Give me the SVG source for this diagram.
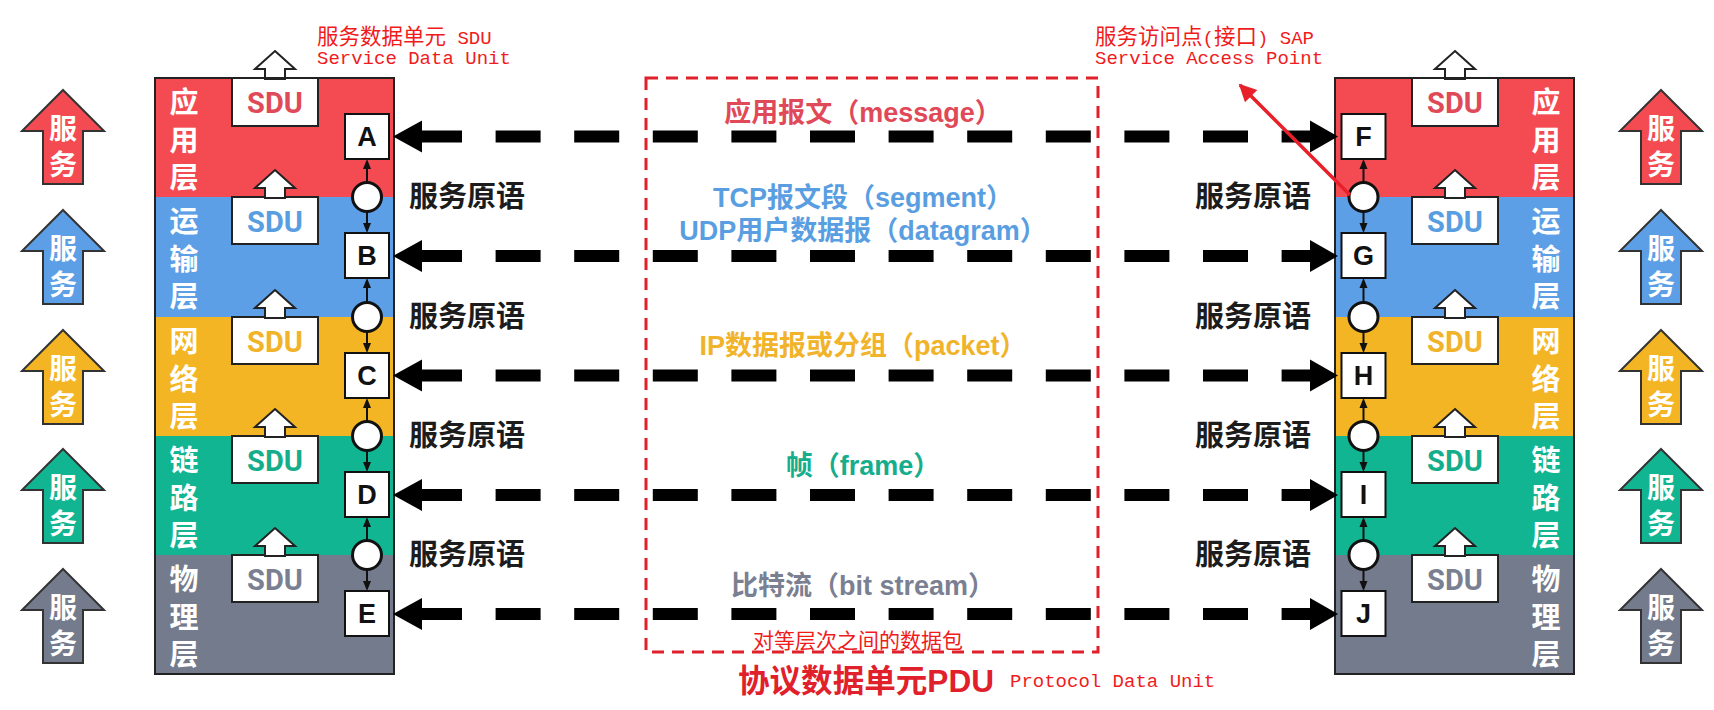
<svg xmlns="http://www.w3.org/2000/svg" width="1714" height="710" viewBox="0 0 1714 710">
<style>
.bg{fill:#fff}
.stack{fill:none;stroke:#222;stroke-width:2}
.red{fill:#f44b53}.blue{fill:#5d9fe6}.yel{fill:#f3b523}.grn{fill:#12b592}.gry{fill:#747b8c}
.tred{fill:#e04a58}.tblue{fill:#5a9ee2}.tyel{fill:#f1b32a}.tgrn{fill:#15ad8c}.tgry{fill:#7a8091}
.lt{font-family:"Noto Sans CJK SC",sans-serif;font-weight:bold;font-size:29px;fill:#fff;writing-mode:vertical-rl;letter-spacing:8.5px}
.sdubox{fill:#fff;stroke:#222;stroke-width:2}
.sdut{font-family:Roboto,"Liberation Sans",sans-serif;font-weight:bold;font-size:29px;text-anchor:middle}
.up{fill:#fff;stroke:#222;stroke-width:2;stroke-linejoin:miter}
.sap{fill:#fff;stroke:#111;stroke-width:2}
.sapt{font-family:"Liberation Sans",Arial,sans-serif;font-weight:bold;font-size:27px;fill:#111;text-anchor:middle}
.circ{fill:#fff;stroke:#111;stroke-width:3}
.prim{font-family:"Noto Sans CJK SC",sans-serif;font-weight:bold;font-size:29px;fill:#1c1c1c;text-anchor:middle}
.svc{stroke:#333;stroke-width:2}
.svct{font-family:"Noto Sans CJK SC",sans-serif;font-weight:bold;font-size:28px;fill:#fff;writing-mode:vertical-rl;letter-spacing:8px}
.pdul{stroke:#000;stroke-width:12;stroke-dasharray:45 33.6;fill:none}
.small{stroke:#111;stroke-width:2;fill:none}
.ah{fill:#111}
.big{fill:#000}
.lbl{font-family:"Liberation Sans","Noto Sans CJK SC",sans-serif;font-weight:bold;font-size:27px;text-anchor:middle}
.ann{font-family:"Liberation Mono","Noto Sans CJK SC",monospace;fill:#f01c1c;font-size:19px}
.annc{font-size:21.5px}
.pdubox{fill:none;stroke:#e0202a;stroke-width:3;stroke-dasharray:12 8}
</style>
<defs>
<marker id="red-head" viewBox="0 0 10 10" refX="9" refY="5" markerWidth="6" markerHeight="5" orient="auto" markerUnits="strokeWidth">
<path d="M0,0 L10,5 L0,10 z" fill="#e8202a"/>
</marker>
</defs>
<rect class="bg" x="0" y="0" width="1714" height="710"/>

<!-- Left service arrows -->
<g id="svc-left">
<g id="svc-left-1"><polygon class="svc red" points="63,90 104,131 83,131 83,184 43,184 43,131 22,131"/><text class="svct" x="63" y="114">服务</text></g>
<g id="svc-left-2"><polygon class="svc blue" points="63,210 104,251 83,251 83,304 43,304 43,251 22,251"/><text class="svct" x="63" y="234">服务</text></g>
<g id="svc-left-3"><polygon class="svc yel" points="63,330 104,371 83,371 83,424 43,424 43,371 22,371"/><text class="svct" x="63" y="354">服务</text></g>
<g id="svc-left-4"><polygon class="svc grn" points="63,449 104,490 83,490 83,543 43,543 43,490 22,490"/><text class="svct" x="63" y="473">服务</text></g>
<g id="svc-left-5"><polygon class="svc gry" points="63,569 104,610 83,610 83,663 43,663 43,610 22,610"/><text class="svct" x="63" y="593">服务</text></g>
</g>

<!-- Right service arrows -->
<g id="svc-right">
<g id="svc-right-1"><polygon class="svc red" points="1661,90 1702,131 1681,131 1681,184 1641,184 1641,131 1620,131"/><text class="svct" x="1661" y="114">服务</text></g>
<g id="svc-right-2"><polygon class="svc blue" points="1661,210 1702,251 1681,251 1681,304 1641,304 1641,251 1620,251"/><text class="svct" x="1661" y="234">服务</text></g>
<g id="svc-right-3"><polygon class="svc yel" points="1661,330 1702,371 1681,371 1681,424 1641,424 1641,371 1620,371"/><text class="svct" x="1661" y="354">服务</text></g>
<g id="svc-right-4"><polygon class="svc grn" points="1661,449 1702,490 1681,490 1681,543 1641,543 1641,490 1620,490"/><text class="svct" x="1661" y="473">服务</text></g>
<g id="svc-right-5"><polygon class="svc gry" points="1661,569 1702,610 1681,610 1681,663 1641,663 1641,610 1620,610"/><text class="svct" x="1661" y="593">服务</text></g>
</g>

<!-- Left stack -->
<g id="left-stack">
<g id="left-app">
<rect class="red" x="155" y="78" width="239" height="119"/>
<text class="lt" x="184" y="87.5">应用层</text>
<rect class="sdubox" x="232" y="78" width="86" height="48"/>
<polygon class="up" points="275,51 295,69 285,69 285,79 265,79 265,69 255,69"/>
<text class="sdut tred" x="275" y="113">SDU</text>
</g>
<g id="left-trans">
<rect class="blue" x="155" y="197" width="239" height="120"/>
<text class="lt" x="184" y="206.5">运输层</text>
<rect class="sdubox" x="232" y="197" width="86" height="47"/>
<polygon class="up" points="275,170 295,188 285,188 285,198 265,198 265,188 255,188"/>
<text class="sdut tblue" x="275" y="232">SDU</text>
</g>
<g id="left-net">
<rect class="yel" x="155" y="317" width="239" height="119"/>
<text class="lt" x="184" y="326.5">网络层</text>
<rect class="sdubox" x="232" y="317" width="86" height="47"/>
<polygon class="up" points="275,290 295,308 285,308 285,318 265,318 265,308 255,308"/>
<text class="sdut tyel" x="275" y="352">SDU</text>
</g>
<g id="left-link">
<rect class="grn" x="155" y="436" width="239" height="119"/>
<text class="lt" x="184" y="445.5">链路层</text>
<rect class="sdubox" x="232" y="436" width="86" height="47"/>
<polygon class="up" points="275,409 295,427 285,427 285,437 265,437 265,427 255,427"/>
<text class="sdut tgrn" x="275" y="471">SDU</text>
</g>
<g id="left-phy">
<rect class="gry" x="155" y="555" width="239" height="119"/>
<text class="lt" x="184" y="564.5">物理层</text>
<rect class="sdubox" x="232" y="555" width="86" height="47"/>
<polygon class="up" points="275,528 295,546 285,546 285,556 265,556 265,546 255,546"/>
<text class="sdut tgry" x="275" y="590">SDU</text>
</g>
<rect class="stack" x="155" y="78" width="239" height="596"/>
</g>

<!-- Right stack -->
<g id="right-stack">
<g id="right-app">
<rect class="red" x="1335" y="78" width="239" height="119"/>
<text class="lt" x="1546" y="87.5">应用层</text>
<rect class="sdubox" x="1412" y="78" width="86" height="48"/>
<polygon class="up" points="1455,51 1475,69 1465,69 1465,79 1445,79 1445,69 1435,69"/>
<text class="sdut tred" x="1455" y="113">SDU</text>
</g>
<g id="right-trans">
<rect class="blue" x="1335" y="197" width="239" height="120"/>
<text class="lt" x="1546" y="206.5">运输层</text>
<rect class="sdubox" x="1412" y="197" width="86" height="47"/>
<polygon class="up" points="1455,170 1475,188 1465,188 1465,198 1445,198 1445,188 1435,188"/>
<text class="sdut tblue" x="1455" y="232">SDU</text>
</g>
<g id="right-net">
<rect class="yel" x="1335" y="317" width="239" height="119"/>
<text class="lt" x="1546" y="326.5">网络层</text>
<rect class="sdubox" x="1412" y="317" width="86" height="47"/>
<polygon class="up" points="1455,290 1475,308 1465,308 1465,318 1445,318 1445,308 1435,308"/>
<text class="sdut tyel" x="1455" y="352">SDU</text>
</g>
<g id="right-link">
<rect class="grn" x="1335" y="436" width="239" height="119"/>
<text class="lt" x="1546" y="445.5">链路层</text>
<rect class="sdubox" x="1412" y="436" width="86" height="47"/>
<polygon class="up" points="1455,409 1475,427 1465,427 1465,437 1445,437 1445,427 1435,427"/>
<text class="sdut tgrn" x="1455" y="471">SDU</text>
</g>
<g id="right-phy">
<rect class="gry" x="1335" y="555" width="239" height="119"/>
<text class="lt" x="1546" y="564.5">物理层</text>
<rect class="sdubox" x="1412" y="555" width="86" height="47"/>
<polygon class="up" points="1455,528 1475,546 1465,546 1465,556 1445,556 1445,546 1435,546"/>
<text class="sdut tgry" x="1455" y="590">SDU</text>
</g>
<rect class="stack" x="1335" y="78" width="239" height="596"/>
</g>

<!-- Connectors -->
<g id="connectors">
<g id="prim-arrows-left">
<line class="small" x1="367" y1="162" x2="367" y2="230"/>
<line class="small" x1="367" y1="281" x2="367" y2="350"/>
<line class="small" x1="367" y1="401" x2="367" y2="469"/>
<line class="small" x1="367" y1="520" x2="367" y2="588"/>
<polygon class="ah" points="367,159 371,169 363,169"/><polygon class="ah" points="367,233 371,223 363,223"/>
<polygon class="ah" points="367,278 371,288 363,288"/><polygon class="ah" points="367,353 371,343 363,343"/>
<polygon class="ah" points="367,398 371,408 363,408"/><polygon class="ah" points="367,472 371,462 363,462"/>
<polygon class="ah" points="367,517 371,527 363,527"/><polygon class="ah" points="367,591 371,581 363,581"/>
</g>
<g id="prim-arrows-right">
<line class="small" x1="1363.5" y1="162" x2="1363.5" y2="230"/>
<line class="small" x1="1363.5" y1="281" x2="1363.5" y2="350"/>
<line class="small" x1="1363.5" y1="401" x2="1363.5" y2="469"/>
<line class="small" x1="1363.5" y1="520" x2="1363.5" y2="588"/>
<polygon class="ah" points="1363.5,159 1367.5,169 1359.5,169"/><polygon class="ah" points="1363.5,233 1367.5,223 1359.5,223"/>
<polygon class="ah" points="1363.5,278 1367.5,288 1359.5,288"/><polygon class="ah" points="1363.5,353 1367.5,343 1359.5,343"/>
<polygon class="ah" points="1363.5,398 1367.5,408 1359.5,408"/><polygon class="ah" points="1363.5,472 1367.5,462 1359.5,462"/>
<polygon class="ah" points="1363.5,517 1367.5,527 1359.5,527"/><polygon class="ah" points="1363.5,591 1367.5,581 1359.5,581"/>
</g>
<g id="peer-arrows">
<line class="pdul" x1="417" y1="136.5" x2="1327" y2="136.5"/>
<polygon class="big" points="393,136.5 422,120.5 422,152.5"/><polygon class="big" points="1338,136.5 1310,120.5 1310,152.5"/>
<line class="pdul" x1="417" y1="256" x2="1327" y2="256"/>
<polygon class="big" points="393,256 422,240 422,272"/><polygon class="big" points="1338,256 1310,240 1310,272"/>
<line class="pdul" x1="417" y1="375.5" x2="1327" y2="375.5"/>
<polygon class="big" points="393,375.5 422,359.5 422,391.5"/><polygon class="big" points="1338,375.5 1310,359.5 1310,391.5"/>
<line class="pdul" x1="417" y1="495" x2="1327" y2="495"/>
<polygon class="big" points="393,495 422,479 422,511"/><polygon class="big" points="1338,495 1310,479 1310,511"/>
<line class="pdul" x1="417" y1="614" x2="1327" y2="614"/>
<polygon class="big" points="393,614 422,598 422,630"/><polygon class="big" points="1338,614 1310,598 1310,630"/>
</g>
</g>

<!-- SAP letter boxes and circles -->
<g id="sap-left">
<g id="sap-A"><rect class="sap" x="345" y="114" width="44" height="45"/><text class="sapt" x="367" y="146">A</text></g>
<g id="sap-B"><rect class="sap" x="345" y="233" width="44" height="45"/><text class="sapt" x="367" y="265">B</text></g>
<g id="sap-C"><rect class="sap" x="345" y="353" width="44" height="45"/><text class="sapt" x="367" y="385">C</text></g>
<g id="sap-D"><rect class="sap" x="345" y="472" width="44" height="45"/><text class="sapt" x="367" y="504">D</text></g>
<g id="sap-E"><rect class="sap" x="345" y="591" width="44" height="45"/><text class="sapt" x="367" y="623">E</text></g>
<circle class="circ" cx="367" cy="197" r="14.5"/>
<circle class="circ" cx="367" cy="317" r="14.5"/>
<circle class="circ" cx="367" cy="436" r="14.5"/>
<circle class="circ" cx="367" cy="555" r="14.5"/>
</g>
<g id="sap-right">
<g id="sap-F"><rect class="sap" x="1341.5" y="114" width="44" height="45"/><text class="sapt" x="1363.5" y="146">F</text></g>
<g id="sap-G"><rect class="sap" x="1341.5" y="233" width="44" height="45"/><text class="sapt" x="1363.5" y="265">G</text></g>
<g id="sap-H"><rect class="sap" x="1341.5" y="353" width="44" height="45"/><text class="sapt" x="1363.5" y="385">H</text></g>
<g id="sap-I"><rect class="sap" x="1341.5" y="472" width="44" height="45"/><text class="sapt" x="1363.5" y="504">I</text></g>
<g id="sap-J"><rect class="sap" x="1341.5" y="591" width="44" height="45"/><text class="sapt" x="1363.5" y="623">J</text></g>
<circle class="circ" cx="1363.5" cy="197" r="14.5"/>
<circle class="circ" cx="1363.5" cy="317" r="14.5"/>
<circle class="circ" cx="1363.5" cy="436" r="14.5"/>
<circle class="circ" cx="1363.5" cy="555" r="14.5"/>
</g>

<!-- Service primitive labels -->
<g id="primitives">
<text class="prim" x="467" y="207">服务原语</text>
<text class="prim" x="467" y="327">服务原语</text>
<text class="prim" x="467" y="446">服务原语</text>
<text class="prim" x="467" y="565">服务原语</text>
<text class="prim" x="1253" y="207">服务原语</text>
<text class="prim" x="1253" y="327">服务原语</text>
<text class="prim" x="1253" y="446">服务原语</text>
<text class="prim" x="1253" y="565">服务原语</text>
</g>

<!-- PDU box and labels -->
<g id="pdu">
<rect class="pdubox" x="646" y="78" width="452" height="574"/>
<text class="lbl tred" x="863" y="122">应用报文（message）</text>
<text class="lbl tblue" x="863" y="207">TCP报文段（segment）</text>
<text class="lbl tblue" x="863" y="240">UDP用户数据报（datagram）</text>
<text class="lbl tyel" x="863" y="355">IP数据报或分组（packet）</text>
<text class="lbl tgrn" x="863" y="475">帧（frame）</text>
<text class="lbl tgry" x="863" y="595">比特流（bit stream）</text>
<text x="858" y="648" font-family="'Noto Sans CJK SC',sans-serif" font-size="21" fill="#f01c1c" text-anchor="middle">对等层次之间的数据包</text>
<text x="738" y="692" font-family="'Liberation Sans','Noto Sans CJK SC',sans-serif" font-weight="bold" font-size="32" fill="#e0202a" textLength="256" lengthAdjust="spacingAndGlyphs">协议数据单元PDU</text>
<text class="ann" x="1010" y="687">Protocol Data Unit</text>
</g>

<!-- Annotations -->
<g id="ann-sdu">
<text class="ann" x="317" y="44"><tspan class="annc">服务数据单元</tspan> SDU</text>
<text class="ann" x="317" y="64">Service Data Unit</text>
</g>
<g id="ann-sap">
<text class="ann" x="1095" y="44"><tspan class="annc">服务访问点</tspan>(<tspan class="annc">接口</tspan>) SAP</text>
<text class="ann" x="1095" y="64">Service Access Point</text>
<line x1="1350" y1="195" x2="1240" y2="85" stroke="#e8202a" stroke-width="3.5" marker-end="url(#red-head)"/>
</g>
</svg>
